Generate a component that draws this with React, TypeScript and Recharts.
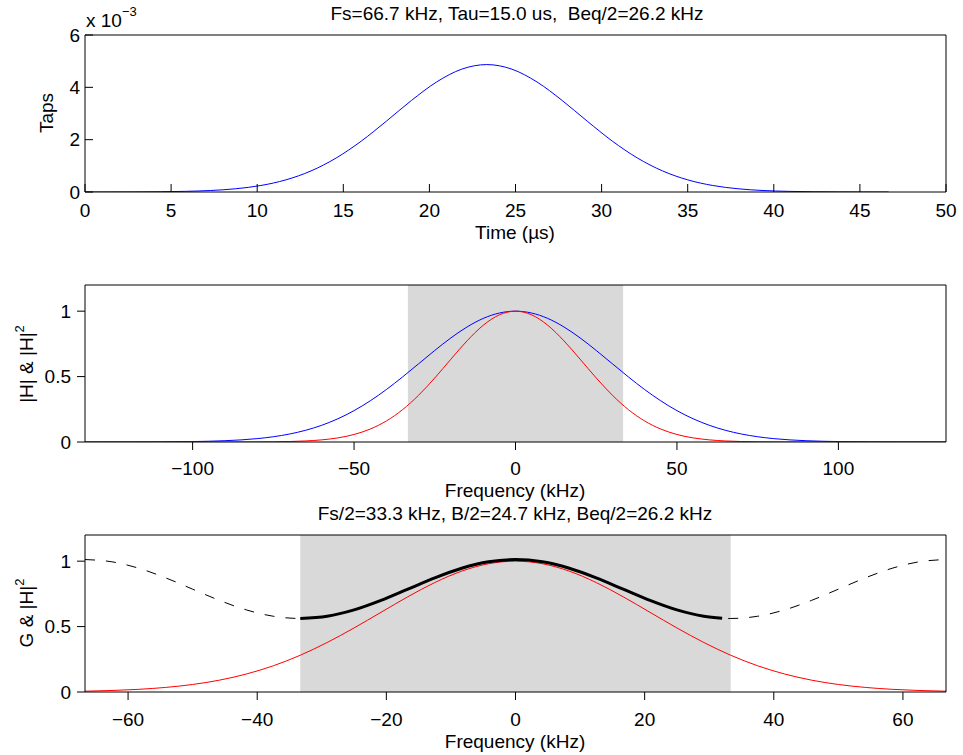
import React from 'react';
import { LineChart, Line, XAxis, YAxis, ReferenceArea } from 'recharts';

// ---------- Panel 1: filter taps (values in units of 1e-3) ----------
const tapTimes = [0, 1.458, 2.917, 4.375, 5.833, 7.292, 8.75, 10.208, 11.667, 13.125, 14.583, 16.042, 17.5, 18.958, 20.417, 21.875, 23.333, 24.792, 26.25, 27.708, 29.167, 30.625, 32.083, 33.542, 35, 36.458, 37.917, 39.375, 40.833, 42.292, 43.75, 45.208, 46.667];
const tapValues = [0.0, 0.001, 0.004, 0.01, 0.025, 0.057, 0.124, 0.248, 0.464, 0.805, 1.298, 1.944, 2.706, 3.499, 4.204, 4.694, 4.87, 4.694, 4.204, 3.499, 2.706, 1.944, 1.298, 0.805, 0.464, 0.248, 0.124, 0.057, 0.025, 0.01, 0.004, 0.001, 0.0];
const timeTicks = [0, 5, 10, 15, 20, 25, 30, 35, 40, 45, 50];
const tapTicks = [0, 2, 4, 6];

// ---------- Panel 2: |H| and |H|^2 ----------
const freqH = [-133.3, -120, -110, -100, -95, -90, -85, -80, -75, -70, -65, -60, -55, -50, -45, -40, -35, -30, -25, -20, -15, -10, -5, 0, 5, 10, 15, 20, 25, 30, 35, 40, 45, 50, 55, 60, 65, 70, 75, 80, 85, 90, 95, 100, 110, 120, 133.3];
const magH = [0.0, 0.0003, 0.001, 0.0033, 0.0058, 0.0098, 0.0161, 0.0258, 0.0402, 0.0609, 0.0895, 0.1279, 0.1776, 0.2397, 0.3145, 0.4009, 0.4967, 0.598, 0.6997, 0.7957, 0.8794, 0.9445, 0.9858, 1.0, 0.9858, 0.9445, 0.8794, 0.7957, 0.6997, 0.598, 0.4967, 0.4009, 0.3145, 0.2397, 0.1776, 0.1279, 0.0895, 0.0609, 0.0402, 0.0258, 0.0161, 0.0098, 0.0058, 0.0033, 0.001, 0.0003, 0.0];
const magH2 = [0.0, 0.0, 0.0, 0.0, 0.0, 0.0001, 0.0003, 0.0007, 0.0016, 0.0037, 0.008, 0.0164, 0.0315, 0.0575, 0.0989, 0.1607, 0.2467, 0.3576, 0.4896, 0.6332, 0.7734, 0.8921, 0.9718, 1.0, 0.9718, 0.8921, 0.7734, 0.6332, 0.4896, 0.3576, 0.2467, 0.1607, 0.0989, 0.0575, 0.0315, 0.0164, 0.008, 0.0037, 0.0016, 0.0007, 0.0003, 0.0001, 0.0, 0.0, 0.0, 0.0, 0.0];
const freqTicks2 = [-100, -50, 0, 50, 100];

// ---------- Panel 3: G and |H|^2 ----------
const freqG = [-66.67, -62.5, -58.33, -54.17, -50, -45.83, -41.67, -37.5, -33.33, -29.17, -25, -20.83, -16.67, -12.5, -8.33, -4.17, 0, 4.17, 8.33, 12.5, 16.67, 20.83, 25, 29.17, 33.33, 37.5, 41.67, 45.83, 50, 54.17, 58.33, 62.5, 66.67];
const gainG = [1.0125, 0.9951, 0.9458, 0.8723, 0.7859, 0.6999, 0.6273, 0.5789, 0.5619, 0.5789, 0.6273, 0.6999, 0.7859, 0.8723, 0.9458, 0.9951, 1.0125, 0.9951, 0.9458, 0.8723, 0.7859, 0.6999, 0.6273, 0.5789, 0.5619, 0.5789, 0.6273, 0.6999, 0.7859, 0.8723, 0.9458, 0.9951, 1.0125];
const magH2G = [0.0062, 0.0115, 0.0205, 0.035, 0.0575, 0.0907, 0.1376, 0.2005, 0.281, 0.3783, 0.4896, 0.609, 0.728, 0.8365, 0.9237, 0.9804, 1.0, 0.9804, 0.9237, 0.8365, 0.728, 0.609, 0.4896, 0.3783, 0.281, 0.2005, 0.1376, 0.0907, 0.0575, 0.035, 0.0205, 0.0115, 0.0062];
const freqBold = [-33.33, -29.17, -25, -20.83, -16.67, -12.5, -8.33, -4.17, 0, 4.17, 8.33, 12.5, 16.67, 20.83, 25, 29.17, 32];
const gainBold = [0.5619, 0.5789, 0.6273, 0.6999, 0.7859, 0.8723, 0.9458, 0.9951, 1.0125, 0.9951, 0.9458, 0.8723, 0.7859, 0.6999, 0.6273, 0.5789, 0.5636];
const freqTicks3 = [-60, -40, -20, 0, 20, 40, 60];
const magTicks = [0, 0.5, 1];

const halfFs = 33.33;

const zip = (xs: number[], ys: number[]) => xs.map((x, i) => ({ x, y: ys[i] }));

const tapData = zip(tapTimes, tapValues);
const hData = zip(freqH, magH);
const h2Data = zip(freqH, magH2);
const gData = zip(freqG, gainG);
const h2gData = zip(freqG, magH2G);
const boldData = zip(freqBold, gainBold);

const FONT = '"Liberation Sans", Arial, Helvetica, sans-serif';
const FS = 19;
const fmt = (v: number) => (v < 0 ? '\u2212' + Math.abs(v) : String(v));

type PanelProps = {
  top: number;
  height: number;
  xDomain: [number, number];
  xTicks: number[];
  yDomain: [number, number];
  yTicks: number[];
  inward: boolean;
  xMargin: number;
  yMargin: number;
  children: React.ReactNode;
};

function Panel(p: PanelProps) {
  const ts = p.inward ? -8 : 8;
  return (
    <div style={{ position: 'absolute', left: 0, top: p.top, width: 963, height: p.height }}>
      <LineChart
        width={963}
        height={p.height}
        margin={{ top: 30, right: 12, left: 25, bottom: p.height - 192 - 30 }}
        style={{ fontFamily: FONT }}
      >
        <XAxis
          xAxisId="b"
          dataKey="x"
          type="number"
          orientation="bottom"
          domain={p.xDomain}
          ticks={p.xTicks}
          allowDataOverflow
          interval={0}
          height={30}
          stroke="#000"
          tickSize={ts}
          tickMargin={p.xMargin}
          tickFormatter={fmt}
          tick={{ fill: '#000', fontSize: FS, fontFamily: FONT }}
        />
        <XAxis
          xAxisId="t"
          dataKey="x"
          type="number"
          orientation="top"
          domain={p.xDomain}
          ticks={p.xTicks}
          allowDataOverflow
          interval={0}
          height={5}
          stroke="#000"
          tickSize={ts}
          tick={false}
        />
        <YAxis
          yAxisId="l"
          type="number"
          orientation="left"
          domain={p.yDomain}
          ticks={p.yTicks}
          allowDataOverflow
          interval={0}
          width={60}
          stroke="#000"
          tickSize={ts}
          tickMargin={p.yMargin}
          tickFormatter={fmt}
          tick={{ fill: '#000', fontSize: FS, fontFamily: FONT }}
        />
        <YAxis
          yAxisId="r"
          type="number"
          orientation="right"
          domain={p.yDomain}
          ticks={p.yTicks}
          allowDataOverflow
          interval={0}
          width={5}
          stroke="#000"
          tickSize={ts}
          tick={false}
        />
        {p.children}
      </LineChart>
    </div>
  );
}

export default function App() {
  return (
    <div style={{ position: 'absolute', left: 0, top: 0, width: 963, height: 755, background: '#fff' }}>
      <Panel top={0} height={250} xDomain={[0, 50]} xTicks={timeTicks} yDomain={[0, 6]} yTicks={tapTicks} inward xMargin={20} yMargin={13}>
        <Line xAxisId="b" yAxisId="l" data={tapData} dataKey="y" type="monotone" stroke="#0000ff" strokeWidth={1} dot={false} isAnimationActive={false} />
      </Panel>
      <Panel top={250} height={250} xDomain={[-133.33, 133.33]} xTicks={freqTicks2} yDomain={[0, 1.2]} yTicks={magTicks} inward={false} xMargin={12} yMargin={6}>
        <ReferenceArea xAxisId="b" yAxisId="l" x1={-halfFs} x2={halfFs} fill="#d9d9d9" fillOpacity={1} stroke="none" />
        <Line xAxisId="b" yAxisId="l" data={hData} dataKey="y" type="monotone" stroke="#0000ff" strokeWidth={1} dot={false} isAnimationActive={false} />
        <Line xAxisId="b" yAxisId="l" data={h2Data} dataKey="y" type="monotone" stroke="#ff0000" strokeWidth={1} dot={false} isAnimationActive={false} />
      </Panel>
      <Panel top={500} height={255} xDomain={[-66.67, 66.67]} xTicks={freqTicks3} yDomain={[0, 1.2]} yTicks={magTicks} inward={false} xMargin={13} yMargin={6}>
        <ReferenceArea xAxisId="b" yAxisId="l" x1={-halfFs} x2={halfFs} fill="#d9d9d9" fillOpacity={1} stroke="none" />
        <Line xAxisId="b" yAxisId="l" data={gData} dataKey="y" type="monotone" stroke="#000" strokeWidth={1} strokeDasharray="10 11" dot={false} isAnimationActive={false} />
        <Line xAxisId="b" yAxisId="l" data={h2gData} dataKey="y" type="monotone" stroke="#ff0000" strokeWidth={1} dot={false} isAnimationActive={false} />
        <Line xAxisId="b" yAxisId="l" data={boldData} dataKey="y" type="monotone" stroke="#000" strokeWidth={3} dot={false} isAnimationActive={false} />
      </Panel>
      <svg width={963} height={755} style={{ position: 'absolute', left: 0, top: 0, pointerEvents: 'none', fontFamily: FONT }}>
        <text x={517} y={20} fontSize={FS} textAnchor="middle" fill="#000" style={{ whiteSpace: 'pre' }}>
          {'Fs=66.7 kHz, Tau=15.0 us,  Beq/2=26.2 kHz'}
        </text>
        <text x={86} y={27} fontSize={FS} fill="#000">
          x 10<tspan fontSize={13} dy={-11}>{'\u22123'}</tspan>
        </text>
        <text x={53} y={113} fontSize={FS} textAnchor="middle" fill="#000" transform="rotate(-90 53 113)">Taps</text>
        <text x={515} y={239} fontSize={FS} textAnchor="middle" fill="#000">Time (µs)</text>

        <text x={33} y={364} fontSize={FS} textAnchor="middle" fill="#000" transform="rotate(-90 33 364)" style={{ whiteSpace: 'pre' }}>
          {'|H| & |H|'}<tspan fontSize={13} dy={-9}>2</tspan>
        </text>
        <text x={515} y={497} fontSize={FS} textAnchor="middle" fill="#000">Frequency (kHz)</text>

        <text x={515} y={520} fontSize={FS} textAnchor="middle" fill="#000">Fs/2=33.3 kHz, B/2=24.7 kHz, Beq/2=26.2 kHz</text>
        <text x={33} y={613} fontSize={FS} textAnchor="middle" fill="#000" transform="rotate(-90 33 613)" style={{ whiteSpace: 'pre' }}>
          {'G & |H|'}<tspan fontSize={13} dy={-9}>2</tspan>
        </text>
        <text x={515} y={748} fontSize={FS} textAnchor="middle" fill="#000">Frequency (kHz)</text>
      </svg>
    </div>
  );
}
